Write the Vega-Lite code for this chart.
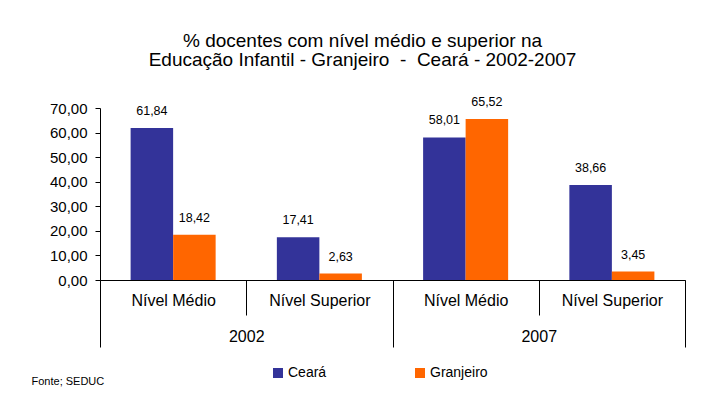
{
  "$schema": "https://vega.github.io/schema/vega-lite/v6.json",
  "width": 585,
  "height": 172,
  "autosize": {"type": "none"},
  "padding": {"left": 100, "top": 108, "right": 16, "bottom": 129},
  "background": "white",
  "title": {
    "text": ["% docentes com nível médio e superior na", "Educação Infantil - Granjeiro \u00a0-\u00a0 Ceará - 2002-2007"],
    "fontSize": 19,
    "font": "Liberation Sans",
    "fontWeight": "normal",
    "color": "black",
    "lineHeight": 19,
    "anchor": "middle",
    "dx": -30,
    "offset": 26
  },
  "data": {
    "values": [
      {"year": "2002", "level": "Nível Médio", "grp": "2002|Nível Médio", "serie": "Ceará", "v": 61.84},
      {"year": "2002", "level": "Nível Médio", "grp": "2002|Nível Médio", "serie": "Granjeiro", "v": 18.42},
      {"year": "2002", "level": "Nível Superior", "grp": "2002|Nível Superior", "serie": "Ceará", "v": 17.41},
      {"year": "2002", "level": "Nível Superior", "grp": "2002|Nível Superior", "serie": "Granjeiro", "v": 2.63},
      {"year": "2007", "level": "Nível Médio", "grp": "2007|Nível Médio", "serie": "Ceará", "v": 58.01},
      {"year": "2007", "level": "Nível Médio", "grp": "2007|Nível Médio", "serie": "Granjeiro", "v": 65.52},
      {"year": "2007", "level": "Nível Superior", "grp": "2007|Nível Superior", "serie": "Ceará", "v": 38.66},
      {"year": "2007", "level": "Nível Superior", "grp": "2007|Nível Superior", "serie": "Granjeiro", "v": 3.45}
    ]
  },
  "transform": [{"calculate": "replace(format(datum.v,'.2f'),'.',',')", "as": "lbl"}],
  "layer": [
    {
      "layer": [
        {
          "mark": {"type": "bar"},
          "encoding": {
            "x": {
              "field": "grp", "type": "nominal", "sort": null,
              "scale": {"paddingInner": 0, "paddingOuter": 0},
              "axis": {
                "title": null,
                "orient": "bottom",
                "labelExpr": "split(datum.value,'|')[1]",
                "tickBand": "extent",
                "tickSize": 35,
                "labelPadding": -15,
                "labelBaseline": "middle",
                "labelAngle": 0,
                "labelFontSize": 16
              }
            },
            "xOffset": {
              "field": "serie", "type": "nominal", "sort": ["Ceará", "Granjeiro"],
              "scale": {"paddingOuter": 0.72, "paddingInner": 0}
            },
            "y": {
              "field": "v", "type": "quantitative",
              "scale": {"domain": [0, 70], "nice": false},
              "axis": {
                "title": null,
                "values": [0, 10, 20, 30, 40, 50, 60, 70],
                "labelExpr": "replace(format(datum.value,'.2f'),'.',',')",
                "labelOverlap": false,
                "labelBound": false,
                "labelFlush": false,
                "grid": false,
                "tickSize": 5,
                "labelPadding": 8,
                "labelFontSize": 15
              }
            },
            "color": {
              "field": "serie", "type": "nominal",
              "scale": {"domain": ["Ceará", "Granjeiro"], "range": ["#333399", "#FF6600"]},
              "legend": {
                "title": null,
                "orient": "none",
                "legendX": 171,
                "legendY": 258,
                "direction": "horizontal",
                "symbolType": "square",
                "symbolSize": 100,
                "symbolStrokeWidth": 0,
                "symbolOpacity": 1,
                "columnPadding": 86,
                "labelOffset": 3,
                "labelFontSize": 14,
                "labelFont": "Liberation Sans",
                "labelColor": "black",
                "padding": 0
              }
            }
          }
        },
        {
          "mark": {"type": "text", "baseline": "bottom", "dy": -10, "fontSize": 12.5, "font": "Liberation Sans", "color": "black"},
          "encoding": {
            "x": {"field": "grp", "type": "nominal", "sort": null},
            "xOffset": {"field": "serie", "type": "nominal", "sort": ["Ceará", "Granjeiro"]},
            "y": {
              "field": "v", "type": "quantitative",
              "axis": {
                "title": null,
                "values": [0, 10, 20, 30, 40, 50, 60, 70],
                "labelExpr": "replace(format(datum.value,'.2f'),'.',',')",
                "labelOverlap": false,
                "labelBound": false,
                "labelFlush": false,
                "grid": false,
                "tickSize": 5,
                "labelPadding": 8,
                "labelFontSize": 15
              }
            },
            "text": {"field": "lbl"}
          }
        }
      ]
    },
    {
      "mark": {"type": "point", "opacity": 0},
      "encoding": {
        "x": {
          "field": "year", "type": "nominal",
          "scale": {"type": "band", "paddingInner": 0, "paddingOuter": 0},
          "axis": {
            "orient": "bottom",
            "title": "Fonte; SEDUC",
            "titleX": -69,
            "titleY": 104,
            "titleAlign": "left",
            "titleBaseline": "alphabetic",
            "titleFontSize": 11,
            "titleFontWeight": "normal",
            "titleFont": "Liberation Sans",
            "titleColor": "black",
            "domain": false,
            "tickBand": "extent",
            "tickSize": 67,
            "labelPadding": -11,
            "labelBaseline": "middle",
            "labelAngle": 0,
            "labelFontSize": 16
          }
        },
        "y": {
          "field": "v", "type": "quantitative",
          "axis": {
            "title": null,
            "values": [0, 10, 20, 30, 40, 50, 60, 70],
            "labelExpr": "replace(format(datum.value,'.2f'),'.',',')",
            "labelOverlap": false,
            "labelBound": false,
            "labelFlush": false,
            "grid": false,
            "tickSize": 5,
            "labelPadding": 8,
            "labelFontSize": 15
          }
        }
      }
    }
  ],
  "resolve": {"scale": {"x": "independent"}, "axis": {"x": "independent"}},
  "config": {
    "view": {"stroke": null},
    "axis": {
      "labelFont": "Liberation Sans",
      "labelColor": "black",
      "domainColor": "black",
      "tickColor": "black",
      "domainWidth": 1,
      "tickWidth": 1
    }
  }
}
